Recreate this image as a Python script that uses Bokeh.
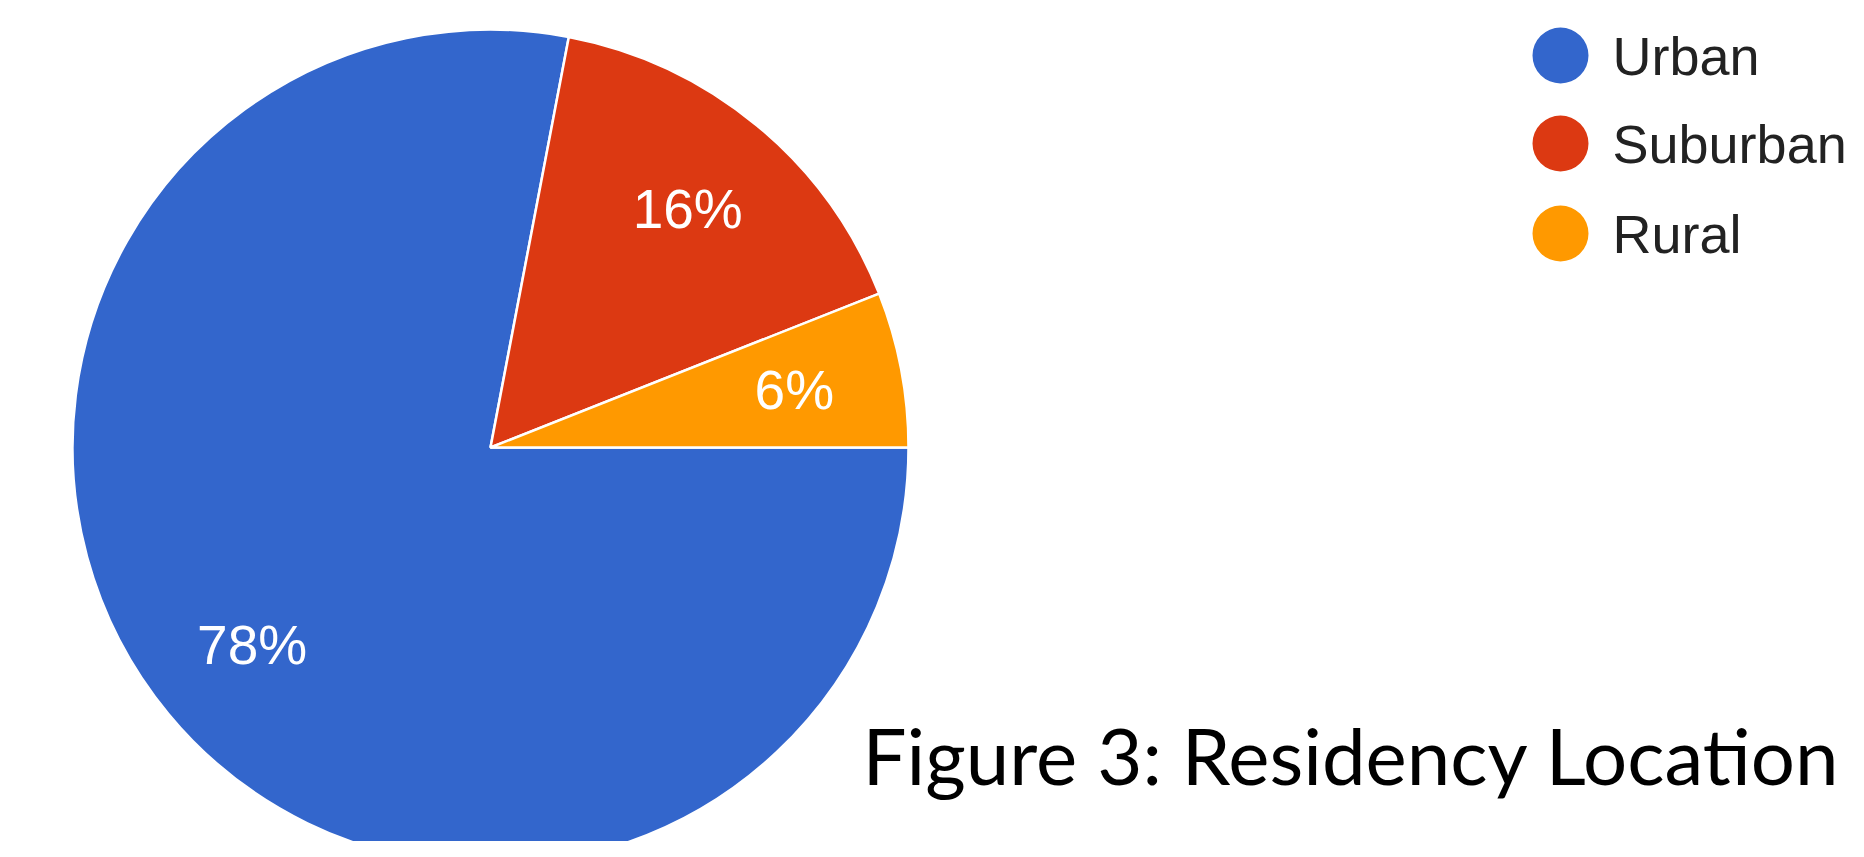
import numpy as np
from bokeh.plotting import figure
from bokeh.models import ColumnDataSource, Range1d
from bokeh.core.properties import value
from bokeh.embed import file_html
from bokeh.resources import INLINE

# ---- data ----
categories = ["Urban", "Suburban", "Rural"]
percents = [78, 16, 6]
colors = ["#3366CC", "#DC3912", "#FF9900"]
caption = "Figure 3: Residency Location"

# ---- layout (window pixel space) ----
W, H = 1848, 841
WIN_H = 857
def wy(y):  # window y (top-down) -> data y (bottom-up)
    return WIN_H - y

cx, cy, R = 490, wy(447), 418

p = figure(width=W, height=H, output_backend="svg", toolbar_location=None,
           x_range=Range1d(0, W), y_range=Range1d(WIN_H - H, WIN_H),
           min_border=0, outline_line_color=None)
p.axis.visible = False
p.grid.visible = False
p.background_fill_color = "white"
p.border_fill_color = "white"

frac = np.array(percents, dtype=float) / sum(percents)
cum = np.concatenate([[0], np.cumsum(frac)]) * 2 * np.pi
# clockwise from 3 o'clock
start = -cum[1:]
end = -cum[:-1]
mid = (start + end) / 2

src = ColumnDataSource(dict(cat=categories, start=start, end=end, color=colors,
                            lbl=[f"{v}%" for v in percents],
                            lx=cx + 0.74 * R * np.cos(mid), ly=cy + 0.74 * R * np.sin(mid)))

p.wedge(x=cx, y=cy, radius=R, start_angle="start", end_angle="end",
        fill_color="color", line_color="white", line_width=2.5, source=src)

p.text(x="lx", y="ly", text="lbl", source=src, text_color="white",
       text_font=value("Liberation Sans"), text_font_size="55px",
       text_align="center", text_baseline="middle")

# legend
leg_y = [wy(55), wy(143), wy(233)]
leg = ColumnDataSource(dict(y=leg_y, cat=categories, color=colors))
p.scatter(x=1560, y="y", size=56, marker="circle", fill_color="color",
          line_color=None, source=leg)
p.text(x=1612, y="y", text="cat", source=leg, text_color="#222222",
       text_font=value("Liberation Sans"), text_font_size="54px",
       text_align="left", text_baseline="middle")

# caption
p.text(x=[862], y=[wy(754)], text=[caption], text_color="black",
       text_font=value("Lato"), text_font_size="78px",
       text_align="left", text_baseline="middle")

open("out.html", "w").write(file_html(p, INLINE))
